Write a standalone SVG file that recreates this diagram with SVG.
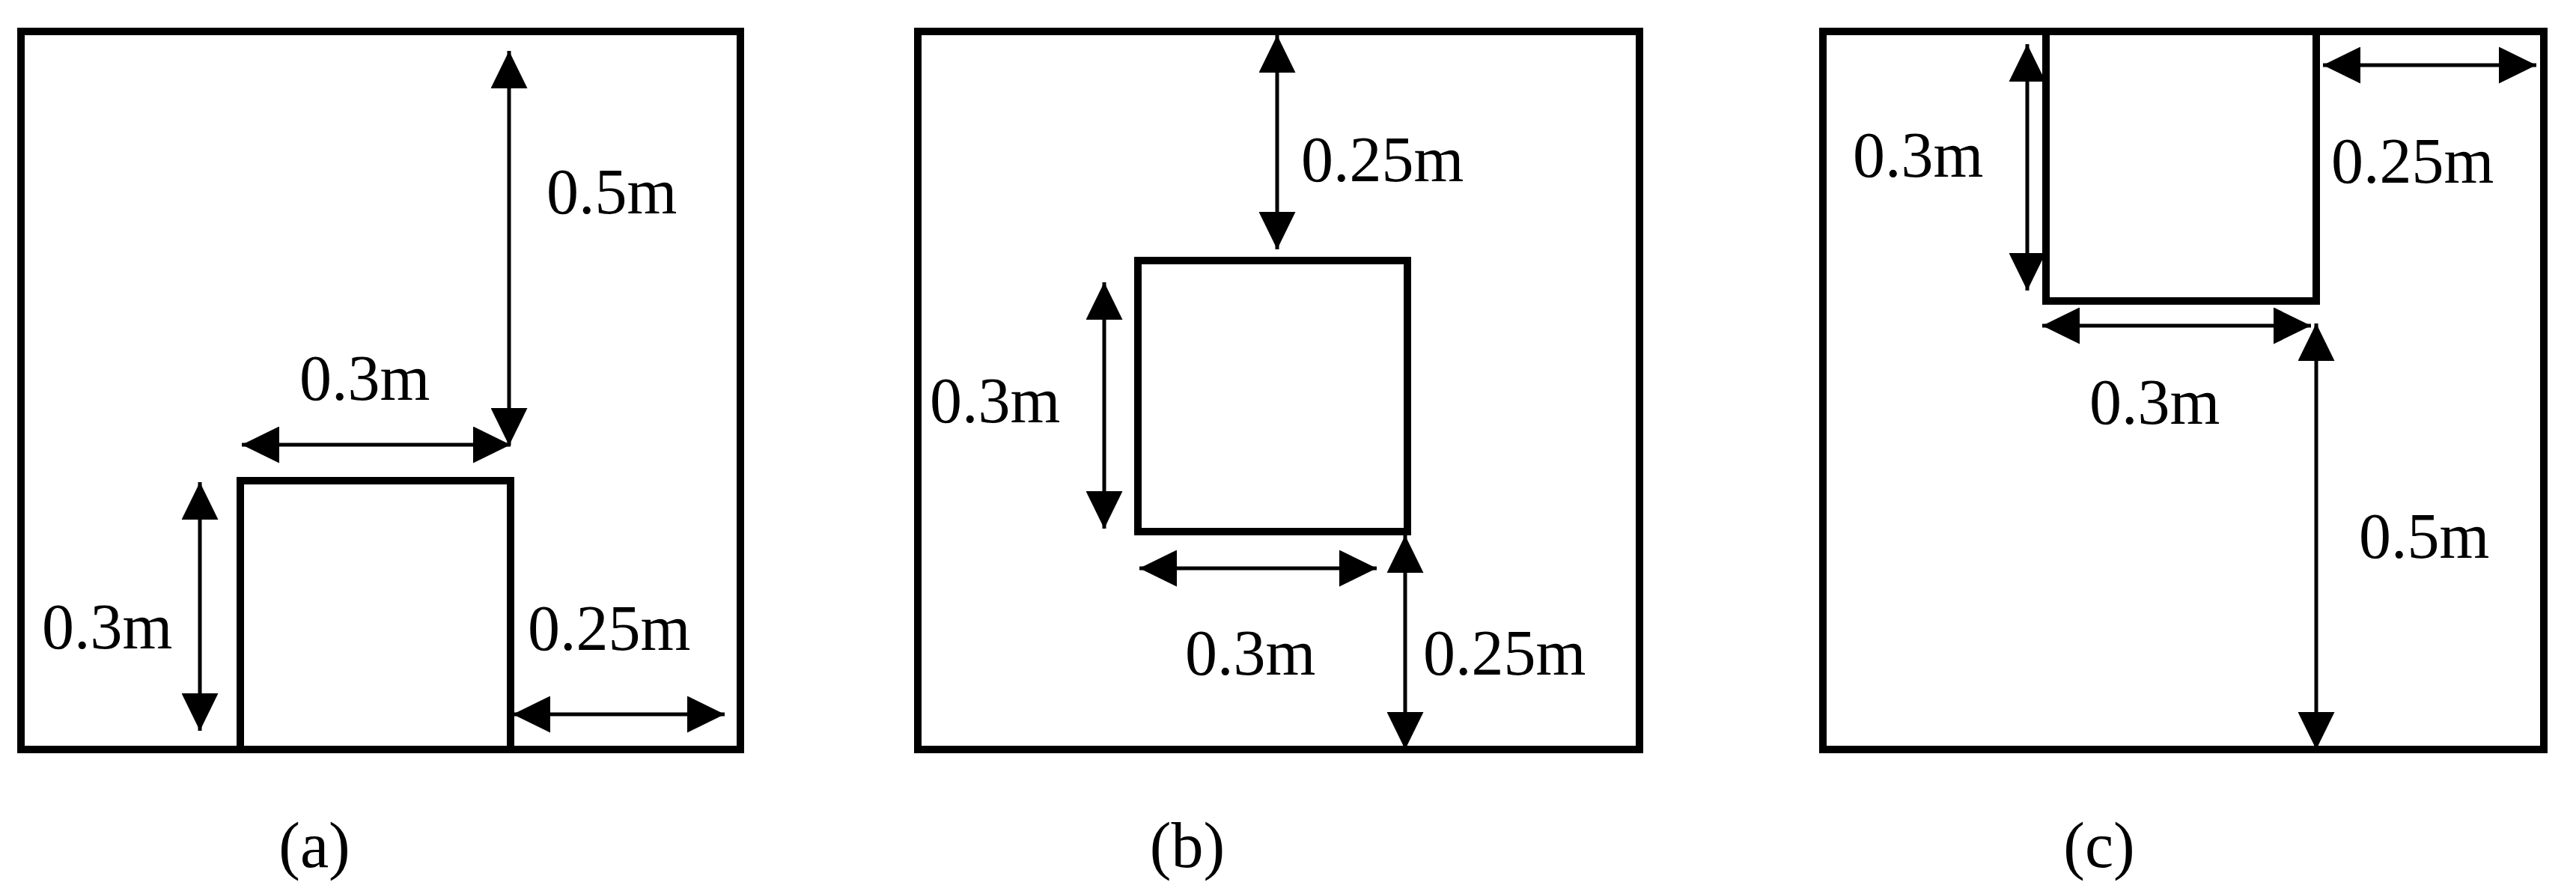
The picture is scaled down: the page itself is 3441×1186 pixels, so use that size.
<svg xmlns="http://www.w3.org/2000/svg" width="3441" height="1186" viewBox="0 0 3441 1186">
<style>
.box{fill:none;stroke:#000;stroke-width:10}
.dim{stroke:#000;stroke-width:5;fill:none;marker-start:url(#ah);marker-end:url(#ah)}
.lbl{font-family:"Liberation Serif","Times New Roman",serif;font-size:86px;fill:#000}
.cap{font-family:"Liberation Serif","Times New Roman",serif;font-size:86px;fill:#000;text-anchor:middle}
</style>
<defs>
<marker id="ah" viewBox="0 0 50 49" markerWidth="50" markerHeight="49" refX="50" refY="24.5" orient="auto-start-reverse" markerUnits="userSpaceOnUse">
<path d="M0,0 L50,24.5 L0,49 z" fill="#000"/>
</marker>
</defs>
<rect width="3441" height="1186" fill="#fff"/>
<g id="panel-a">
<rect class="box" x="28" y="42" width="961" height="959"/>
<rect class="box" x="321" y="642" width="361" height="359"/>
</g>
<g id="panel-b">
<rect class="box" x="1226" y="42" width="964" height="959"/>
<rect class="box" x="1520" y="348" width="360" height="362"/>
</g>
<g id="panel-c">
<rect class="box" x="2435" y="42" width="963" height="959"/>
<rect class="box" x="2733" y="42" width="361" height="360"/>
</g>
<g id="connectors">
<line class="dim" x1="680" y1="68" x2="680" y2="595"/>
<line class="dim" x1="323" y1="594" x2="682" y2="594"/>
<line class="dim" x1="267" y1="644" x2="267" y2="976"/>
<line class="dim" x1="685" y1="954" x2="968" y2="954"/>
<line class="dim" x1="1706" y1="47" x2="1706" y2="333"/>
<line class="dim" x1="1475" y1="377" x2="1475" y2="706"/>
<line class="dim" x1="1522" y1="759" x2="1839" y2="759"/>
<line class="dim" x1="1877" y1="715" x2="1877" y2="1001"/>
<line class="dim" x1="2708" y1="59" x2="2708" y2="388"/>
<line class="dim" x1="3103" y1="87" x2="3388" y2="87"/>
<line class="dim" x1="2728" y1="435" x2="3087" y2="435"/>
<line class="dim" x1="3094" y1="432" x2="3094" y2="1001"/>
</g>
<g id="labels">
<text class="lbl" x="730" y="285">0.5m</text>
<text class="lbl" x="400" y="534">0.3m</text>
<text class="lbl" x="56" y="866">0.3m</text>
<text class="lbl" x="705" y="868">0.25m</text>
<text class="lbl" x="1738" y="242">0.25m</text>
<text class="lbl" x="1242" y="564">0.3m</text>
<text class="lbl" x="1583" y="901">0.3m</text>
<text class="lbl" x="1901" y="901">0.25m</text>
<text class="lbl" x="2475" y="236">0.3m</text>
<text class="lbl" x="3114" y="244">0.25m</text>
<text class="lbl" x="2791" y="566">0.3m</text>
<text class="lbl" x="3151" y="745">0.5m</text>
<text class="cap" x="420" y="1158">(a)</text>
<text class="cap" x="1586" y="1158">(b)</text>
<text class="cap" x="2804" y="1158">(c)</text>
</g>
</svg>
